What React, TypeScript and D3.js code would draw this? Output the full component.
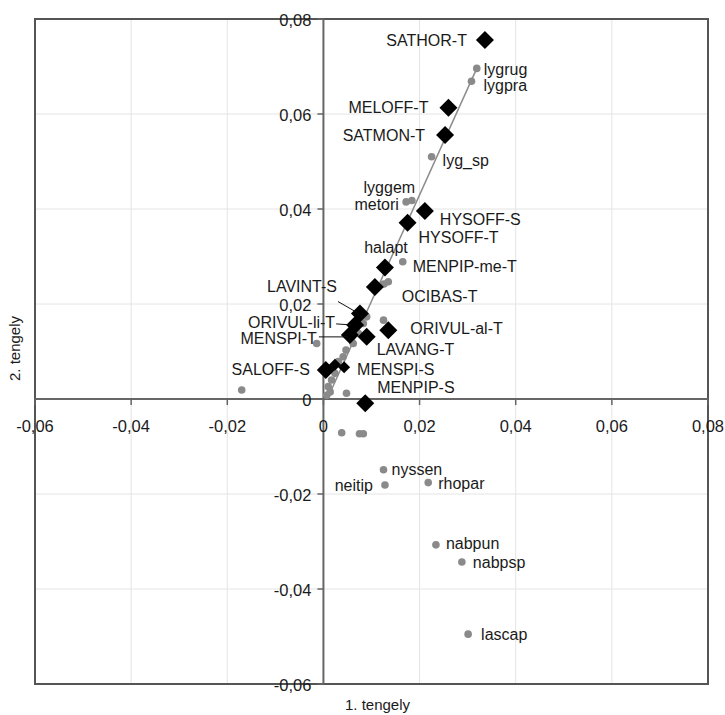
import React from "react";
import * as d3 from "d3";

// ordination scores, 1. tengely (x) and 2. tengely (y)
const diamondNames = ["SATHOR-T", "MELOFF-T", "SATMON-T", "HYSOFF-S", "HYSOFF-T", "halapt", "OCIBAS-T", "LAVINT-S", "ORIVUL-li-T", "MENSPI-T", "LAVANG-T", "ORIVUL-al-T", "SALOFF-S", "MENPIP-S"];
const diamondX = [0.0336, 0.026, 0.0253, 0.0211, 0.0175, 0.0128, 0.0107, 0.0076, 0.0066, 0.0055, 0.009, 0.0135, 0.0005, 0.0087];
const diamondY = [0.0756, 0.0613, 0.0556, 0.0396, 0.0371, 0.0277, 0.0236, 0.018, 0.0156, 0.0135, 0.0131, 0.0145, 0.0061, -0.0009];

const smallDiamondNames = ["", "MENSPI-S"];
const smallDiamondX = [0.0024, 0.0043];
const smallDiamondY = [0.0072, 0.0067];

const dotNames = ["lygrug", "lygpra", "lyg_sp", "lyggem", "metori", "MENPIP-me-T", "nyssen", "neitip", "rhopar", "nabpun", "nabpsp", "lascap",
  "", "", "", "", "", "", "", "", "", "", "", "", "", "", "", "", "", "", "", "", ""];
const dotX = [0.0319, 0.0308, 0.0225, 0.0172, 0.0184, 0.0165, 0.0125, 0.0128, 0.0218, 0.0234, 0.0288, 0.0301,
  0.0007, 0.0014, 0.001, 0.0017, 0.0024, 0.0031, 0.0041, 0.0047, 0.0062, 0.0073, 0.0083, 0.009, 0.0048, -0.0014, -0.017, 0.0125, 0.0135, 0.0126,
  0.0038, 0.0075, 0.0083];
const dotY = [0.0696, 0.0669, 0.051, 0.0415, 0.0418, 0.0289, -0.0149, -0.0181, -0.0176, -0.0307, -0.0343, -0.0495,
  0.0008, 0.0015, 0.0026, 0.004, 0.0054, 0.0079, 0.0089, 0.0103, 0.0117, 0.0138, 0.0159, 0.0173, 0.0012, 0.0117, 0.0019, 0.0166, 0.0247, 0.0242,
  -0.0071, -0.0073, -0.0073];

const trendX = [0.0008, 0.0319];
const trendY = [0.0, 0.0696];

const tickValues = [-0.06, -0.04, -0.02, 0, 0.02, 0.04, 0.06, 0.08];

// label placement relative to the mark: dx, dy, anchor, optional leader [x1,y1,x2,y2]
const labelPos: Record<string, [number, number, string, number[]?]> = {
  "SATHOR-T": [-18, 0, "end"],
  "MELOFF-T": [-20, 0, "end"],
  "SATMON-T": [-20, 0, "end"],
  "HYSOFF-S": [15, 8, "start"],
  "HYSOFF-T": [11, 15, "start"],
  "halapt": [1, -20, "middle"],
  "OCIBAS-T": [27, 9, "start"],
  "LAVINT-S": [-23, -27, "end", [-22, -12, -3, -1]],
  "ORIVUL-li-T": [-20, -3, "end", [-19, -1, -4, 0]],
  "MENSPI-T": [-33, 4, "end", [-31, 2, -2, 2]],
  "LAVANG-T": [10, 13, "start"],
  "ORIVUL-al-T": [22, -2, "start"],
  "SALOFF-S": [-16, -1, "end"],
  "MENPIP-S": [12, -16, "start"],
  "MENSPI-S": [13, 2, "start"],
  "lygrug": [7, 1, "start"],
  "lygpra": [12, 4, "start"],
  "lyg_sp": [11, 4, "start"],
  "lyggem": [9, -14, "end"],
  "metori": [-13, 4, "end"],
  "MENPIP-me-T": [10, 5, "start"],
  "nyssen": [8, 0, "start"],
  "neitip": [-12, 0, "end"],
  "rhopar": [10, 1, "start"],
  "nabpun": [10, -1, "start"],
  "nabpsp": [11, 0, "start"],
  "lascap": [13, 0, "start"],
};

const W = 725, H = 715;
const left = 35, right = 708, top = 19, bottom = 684;
const font = "'Liberation Sans', Arial, sans-serif";

const fmt = (v: number) => (Math.abs(v) < 1e-9 ? "0" : d3.format(".2f")(v).replace("−", "-").replace(".", ","));

export default function App() {
  const x = d3.scaleLinear().domain([-0.06, 0.08]).range([left, right]);
  const y = d3.scaleLinear().domain([-0.06, 0.08]).range([bottom, top]);
  const line = d3.line<number>().x((d) => x(trendX[d])).y((d) => y(trendY[d]));

  const diamond = (cx: number, cy: number, r: number) =>
    `M${cx},${cy - r}L${cx + r},${cy}L${cx},${cy + r}L${cx - r},${cy}Z`;

  const label = (name: string, px: number, py: number, key: string) => {
    const p = labelPos[name];
    if (!name || !p) return null;
    const [dx, dy, anchor, leader] = p;
    return (
      <g key={key}>
        {leader && (
          <line x1={px + leader[0]} y1={py + leader[1]} x2={px + leader[2]} y2={py + leader[3]} stroke="#111" strokeWidth={1} />
        )}
        <text x={px + dx} y={py + dy} dy="0.35em" textAnchor={anchor} fontSize={16} fill="#1a1a1a">{name}</text>
      </g>
    );
  };

  return (
    <>
      <style>{`body{margin:0}`}</style>
      <svg width={W} height={H} style={{ display: "block", fontFamily: font }}>
        <rect width={W} height={H} fill="#fff" />
        {/* grid */}
        {tickValues.map((t) => (
          <g key={"g" + t}>
            <line x1={x(t)} x2={x(t)} y1={top} y2={bottom} stroke="#e4e4e4" strokeWidth={1} />
            <line x1={left} x2={right} y1={y(t)} y2={y(t)} stroke="#e4e4e4" strokeWidth={1} />
          </g>
        ))}
        {/* frame */}
        <rect x={left} y={top} width={right - left} height={bottom - top} fill="none" stroke="#555" strokeWidth={2} />
        {/* axes through origin */}
        <line x1={left} x2={right} y1={y(0)} y2={y(0)} stroke="#666" strokeWidth={2} />
        <line x1={x(0)} x2={x(0)} y1={top} y2={bottom} stroke="#666" strokeWidth={2} />
        {tickValues.map((t) => (
          <g key={"t" + t}>
            <line x1={x(t)} x2={x(t)} y1={y(0)} y2={y(0) + 6} stroke="#666" strokeWidth={1.5} />
            <line x1={x(0) - 6} x2={x(0)} y1={y(t)} y2={y(t)} stroke="#666" strokeWidth={1.5} />
            <text x={x(t)} y={y(0) + 27} textAnchor="middle" dy="0.35em" fontSize={16.5} fill="#1a1a1a">{fmt(t)}</text>
            <text x={x(0) - 12} y={y(t) + 1} textAnchor="end" dy="0.35em" fontSize={16.5} fill="#1a1a1a">{fmt(t)}</text>
          </g>
        ))}
        {/* trend line */}
        <path d={line([0, 1]) || ""} fill="none" stroke="#8c8c8c" strokeWidth={1.5} />
        {/* species dots */}
        {dotX.map((d, i) => (
          <circle key={"d" + i} cx={x(d)} cy={y(dotY[i])} r={3.8} fill="#8a8a8a" />
        ))}
        {/* diamonds */}
        {smallDiamondX.map((d, i) => (
          <path key={"s" + i} d={diamond(x(d), y(smallDiamondY[i]), 6)} fill="#000" />
        ))}
        {diamondX.map((d, i) => (
          <path key={"m" + i} d={diamond(x(d), y(diamondY[i]), 9)} fill="#000" />
        ))}
        {/* labels */}
        {dotNames.map((n, i) => label(n, x(dotX[i]), y(dotY[i]), "ld" + i))}
        {smallDiamondNames.map((n, i) => label(n, x(smallDiamondX[i]), y(smallDiamondY[i]), "ls" + i))}
        {diamondNames.map((n, i) => label(n, x(diamondX[i]), y(diamondY[i]), "lm" + i))}
        {/* axis titles */}
        <text x={(left + right) / 2 + 6} y={705} textAnchor="middle" dy="0.35em" fontSize={15} fill="#1a1a1a">1. tengely</text>
        <text transform={`translate(15,${(top + bottom) / 2 - 3}) rotate(-90)`} textAnchor="middle" dy="0.35em" fontSize={15} fill="#1a1a1a">2. tengely</text>
      </svg>
    </>
  );
}
